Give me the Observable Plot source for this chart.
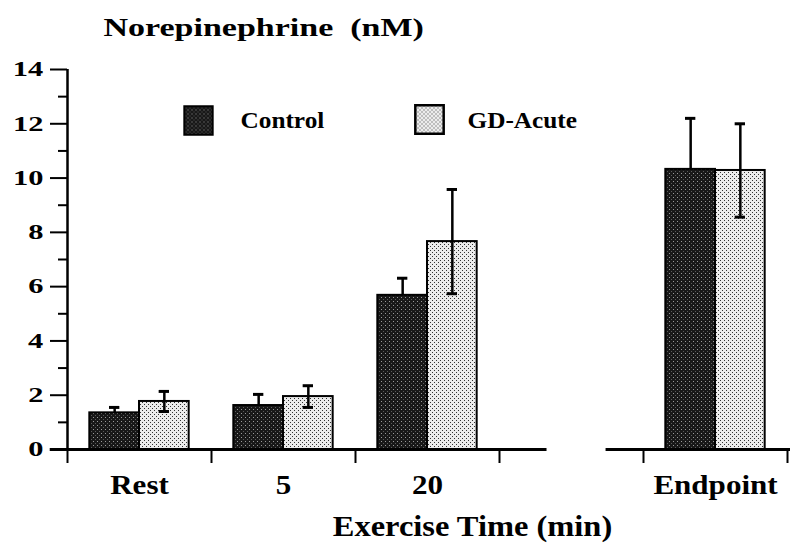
<!DOCTYPE html>
<html><head><meta charset="utf-8">
<script src="https://cdn.jsdelivr.net/npm/d3@7"></script>
<script src="https://cdn.jsdelivr.net/npm/@observablehq/plot@0.6"></script>
<style>body{margin:0;background:#fff} svg{display:block}</style>
</head><body><div id="chart"></div>
<script>
// ---- data ----
const categories = ["Rest", "5", "20", "Endpoint"];
const slots = [0, 1, 2, 4];                 // slot 3 is the axis break
const control = [1.35, 1.62, 5.68, 10.32];
const controlErr = [0.2, 0.41, 0.63, 1.88];
const gdAcute = [1.77, 1.95, 7.66, 10.28];
const gdAcuteErr = [0.37, 0.4, 1.92, 1.72];
const yMajorTicks = [0, 2, 4, 6, 8, 10, 12, 14];
const yMinorTicks = [1, 3, 5, 7, 9, 11, 13];
const seriesNames = ["Control", "GD-Acute"];
const titleText = "Norepinephrine\u00a0\u00a0(nM)";
const xLabel = "Exercise Time (min)";

// ---- layout ----
const barW = 0.345, capHalf = 0.036;
const axisSegments = [[-0.12, 3.33], [3.74, 5.03]];
const boundaryTicks = [0, 1, 2, 3, 4, 5];

const ctrlRows = categories.map((c, i) => ({cat: c, s: slots[i], v: control[i], e: controlErr[i]}));
const gdRows = categories.map((c, i) => ({cat: c, s: slots[i], v: gdAcute[i], e: gdAcuteErr[i]}));
const labelRows = categories.map((c, i) => ({cat: c, s: slots[i]}));

const F = "'Liberation Serif', 'Times New Roman', serif";

const chart = Plot.plot({
  width: 790, height: 544,
  marginLeft: 67, marginRight: 3, marginTop: 69, marginBottom: 95,
  x: {domain: [0, 5], axis: null},
  y: {domain: [0, 14], axis: null},
  style: {fontFamily: F, fontWeight: "bold", color: "black", background: "white"},
  marks: [
    // bars
    Plot.rect(ctrlRows, {x1: d => d.s + 0.5 - barW, x2: d => d.s + 0.5, y1: d => 0, y2: "v",
      fill: "url(#pDark)", stroke: "black", strokeWidth: 2}),
    Plot.rect(gdRows, {x1: d => d.s + 0.5, x2: d => d.s + 0.5 + barW, y1: d => 0, y2: "v",
      fill: "url(#pLight)", stroke: "black", strokeWidth: 2}),
    // error bars
    Plot.ruleX(ctrlRows, {x: d => d.s + 0.5 - barW / 2, y1: "v", y2: d => d.v + d.e, strokeWidth: 2.5}),
    Plot.ruleY(ctrlRows, {y: d => d.v + d.e, x1: d => d.s + 0.5 - barW / 2 - capHalf, x2: d => d.s + 0.5 - barW / 2 + capHalf, strokeWidth: 3}),
    Plot.ruleX(gdRows, {x: d => d.s + 0.5 + barW / 2, y1: d => d.v - d.e, y2: d => d.v + d.e, strokeWidth: 2.5}),
    Plot.ruleY(gdRows, {y: d => d.v + d.e, x1: d => d.s + 0.5 + barW / 2 - capHalf, x2: d => d.s + 0.5 + barW / 2 + capHalf, strokeWidth: 3}),
    Plot.ruleY(gdRows, {y: d => d.v - d.e, x1: d => d.s + 0.5 + barW / 2 - capHalf, x2: d => d.s + 0.5 + barW / 2 + capHalf, strokeWidth: 3}),
    // broken x baseline
    Plot.ruleY(axisSegments, {y: d => 0, x1: d => d[0], x2: d => d[1], strokeWidth: 3}),
    // y axis line and ticks
    Plot.ruleX([0], {y1: 0, y2: 14, strokeWidth: 2.5}),
    Plot.axisY({ticks: yMinorTicks, tickSize: 9, tickFormat: () => "", strokeWidth: 2, label: null}),
    Plot.axisY({ticks: yMajorTicks, tickSize: 17, tickFormat: () => "", strokeWidth: 2, label: null}),
    Plot.text(yMajorTicks, {x: d => 0, y: d => d, text: d => String(d), dx: -24, textAnchor: "end", fontSize: 21}),
    Plot.axisX({ticks: boundaryTicks, tickSize: 14, tickFormat: () => "", strokeWidth: 2, label: null}),
    // category labels
    Plot.text(labelRows, {x: d => d.s + 0.5, y: d => 0, text: "cat", dy: 44, lineAnchor: "bottom", fontSize: 27}),
    // x axis title
    Plot.text([xLabel], {frameAnchor: "bottom", dx: 45, dy: 86, lineAnchor: "bottom", fontSize: 29}),
    // chart title
    Plot.text([titleText], {frameAnchor: "top-left", dx: 36, dy: -34, lineAnchor: "bottom", textAnchor: "start",
      fontSize: 25}),
    // legend
    Plot.dot([seriesNames[0]], {frameAnchor: "top-left", dx: 131, dy: 51, symbol: "square", r: 16,
      fill: "url(#pDark)", stroke: "black", strokeWidth: 2}),
    Plot.dot([seriesNames[1]], {frameAnchor: "top-left", dx: 362, dy: 50, symbol: "square", r: 16,
      fill: "url(#pLight)", stroke: "black", strokeWidth: 2.5}),
    Plot.text(seriesNames, {frameAnchor: "top-left", text: d => d, lineAnchor: "bottom",
      textAnchor: "start", fontSize: 23, filter: (d, i) => i === 0, dx: 173, dy: 58}),
    Plot.text(seriesNames, {frameAnchor: "top-left", text: d => d, lineAnchor: "bottom",
      textAnchor: "start", fontSize: 23, filter: (d, i) => i === 1, dx: 400, dy: 58})
  ]
});

// stipple patterns
const ns = "http://www.w3.org/2000/svg";
const defs = document.createElementNS(ns, "defs");
defs.innerHTML = `
  <pattern id="pDark" width="4" height="4" patternUnits="userSpaceOnUse">
    <rect width="4" height="4" fill="#181818"/>
    <rect x="1" y="1" width="1" height="1" fill="#9a9a9a"/>
    <rect x="3" y="3" width="1" height="1" fill="#5a5a5a"/>
  </pattern>
  <pattern id="pLight" width="4" height="4" patternUnits="userSpaceOnUse">
    <rect width="4" height="4" fill="#ececec"/>
    <rect x="0" y="0" width="1" height="1" fill="#333"/>
    <rect x="2" y="2" width="1" height="1" fill="#333"/>
  </pattern>`;
chart.insertBefore(defs, chart.firstChild);

document.getElementById("chart").appendChild(chart);

// widen text horizontally (the original uses a wide serif face)
function factorFor(s) {
  if (s === titleText) return 1.36;
  if (s === xLabel) return 1.12;
  if (seriesNames.includes(s)) return 1.1;
  if (categories.includes(s)) return 1.15;
  if (yMajorTicks.map(String).includes(s)) return 1.45;
  return 1;
}
Array.from(chart.querySelectorAll("text")).forEach(t => {
  const s = t.textContent;
  const f = factorFor(s);
  if (f === 1 || !s) return;
  const r = t.getBoundingClientRect();
  const anchor = getComputedStyle(t).textAnchor;
  let sx = r.left;
  if (anchor === "middle") sx += r.width / 2;
  else if (anchor === "end") sx += r.width;
  // convert the screen anchor into the parent's local coordinates
  const parent = t.parentNode;
  const pt = chart.createSVGPoint();
  pt.x = sx; pt.y = r.top;
  const local = pt.matrixTransform(parent.getScreenCTM().inverse());
  const ax = local.x;
  const g = document.createElementNS(ns, "g");
  g.setAttribute("transform", `translate(${ax},0) scale(${f},1) translate(${-ax},0)`);
  parent.insertBefore(g, t);
  g.appendChild(t);
});
</script></body></html>
